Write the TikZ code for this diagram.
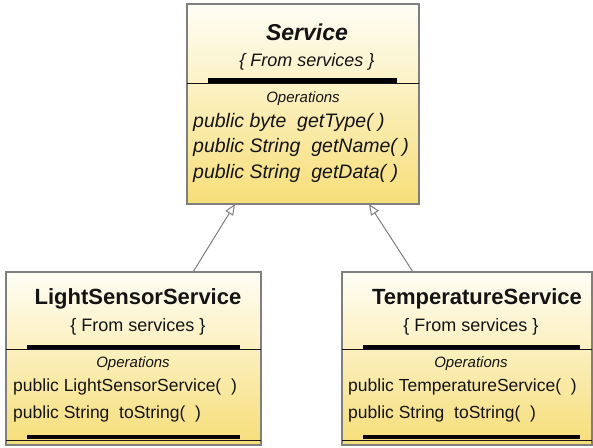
\documentclass[tikz,border=0pt]{standalone}
\usepackage{fontspec}
\setmainfont{Liberation Sans}
\usetikzlibrary{arrows.meta}
\definecolor{boxtop}{HTML}{FFFEF6}
\definecolor{boxbot}{HTML}{F6DE78}
\definecolor{edge}{HTML}{7F7F7F}
\definecolor{ink}{HTML}{141414}

\begin{document}
\begin{tikzpicture}[x=1pt,y=1pt,
  classbox/.style={draw=edge, line width=1.1pt, top color=boxtop, bottom color=boxbot,
    inner sep=0pt, outer sep=0pt, anchor=north west},
  title/.style={font=\fontsize{22}{26}\selectfont\bfseries, text=ink, inner sep=0pt},
  stereo/.style={font=\fontsize{18}{21}\selectfont, text=ink, inner sep=0pt},
  opshead/.style={font=\fontsize{15}{18}\selectfont\itshape, text=ink, inner sep=0pt},
  op/.style={font=\fontsize{17.5}{21}\selectfont, text=ink, anchor=west, inner sep=0pt},
  bigop/.style={font=\fontsize{19.5}{23}\selectfont\itshape, text=ink, anchor=west, inner sep=0pt},
  divider/.style={draw=ink, line width=0.9pt},
  bar/.style={fill=black},
  inherit/.style={draw=edge, line width=1pt, -{Triangle[open, length=11pt, width=9pt, fill=white]}}
]
\useasboundingbox (0,0) rectangle (593,447);
\fill[white] (0,0) rectangle (593,447);

% ---- Service ----
\node[classbox, minimum width=232pt, minimum height=200pt] (svc) at (187,443) {};
\fill[bar] (208,364) rectangle (397,368.5);
\draw[divider] (187,364) -- (419,364);
\node[title, font=\fontsize{23}{27}\selectfont\bfseries\itshape] (svcname) at (307,415) {Service};
\node[stereo, font=\fontsize{18}{21}\selectfont\itshape] (svcst) at (307,385) {\{ From services \}};
\node[opshead] (svcops) at (303,348) {Operations};
\node[bigop] (svc1) at (193,325) {public byte\ \ getType( )};
\node[bigop] (svc2) at (193,300) {public String\ \ getName( )};
\node[bigop] (svc3) at (193,274) {public String\ \ getData( )};

% ---- LightSensorService ----
\node[classbox, minimum width=255pt, minimum height=173pt] (lsvc) at (6,175) {};
\fill[bar] (27,98) rectangle (240,102.5);
\draw[divider] (6,98) -- (261,98);
\node[title] (lname) at (138,148) {LightSensorService};
\node[stereo] (lst) at (138,120) {\{ From services \}};
\node[opshead] (lops) at (133,83) {Operations};
\node[op] (l1) at (13,60) {public LightSensorService(\ \ )};
\node[op] (l2) at (13,33) {public String\ \ toString(\ \ )};
\fill[bar] (27,8) rectangle (240,12.5);
\draw[divider] (6,7) -- (261,7);

% ---- TemperatureService ----
\node[classbox, minimum width=250pt, minimum height=173pt] (tsvc) at (342,175) {};
\fill[bar] (363,98) rectangle (580,102.5);
\draw[divider] (342,98) -- (592,98);
\node[title] (tname) at (477,148) {TemperatureService};
\node[stereo] (tst) at (471,120) {\{ From services \}};
\node[opshead] (tops) at (471,83) {Operations};
\node[op] (t1) at (348,60) {public TemperatureService(\ \ )};
\node[op] (t2) at (348,33) {public String\ \ toString(\ \ )};
\fill[bar] (363,8) rectangle (580,12.5);
\draw[divider] (342,7) -- (592,7);

% ---- generalisations ----
\draw[inherit] ([xshift=187pt]lsvc.north west) -- ([xshift=48pt]svc.south west);
\draw[inherit] ([xshift=71pt]tsvc.north west) -- ([xshift=182pt]svc.south west);
\end{tikzpicture}
\end{document}
